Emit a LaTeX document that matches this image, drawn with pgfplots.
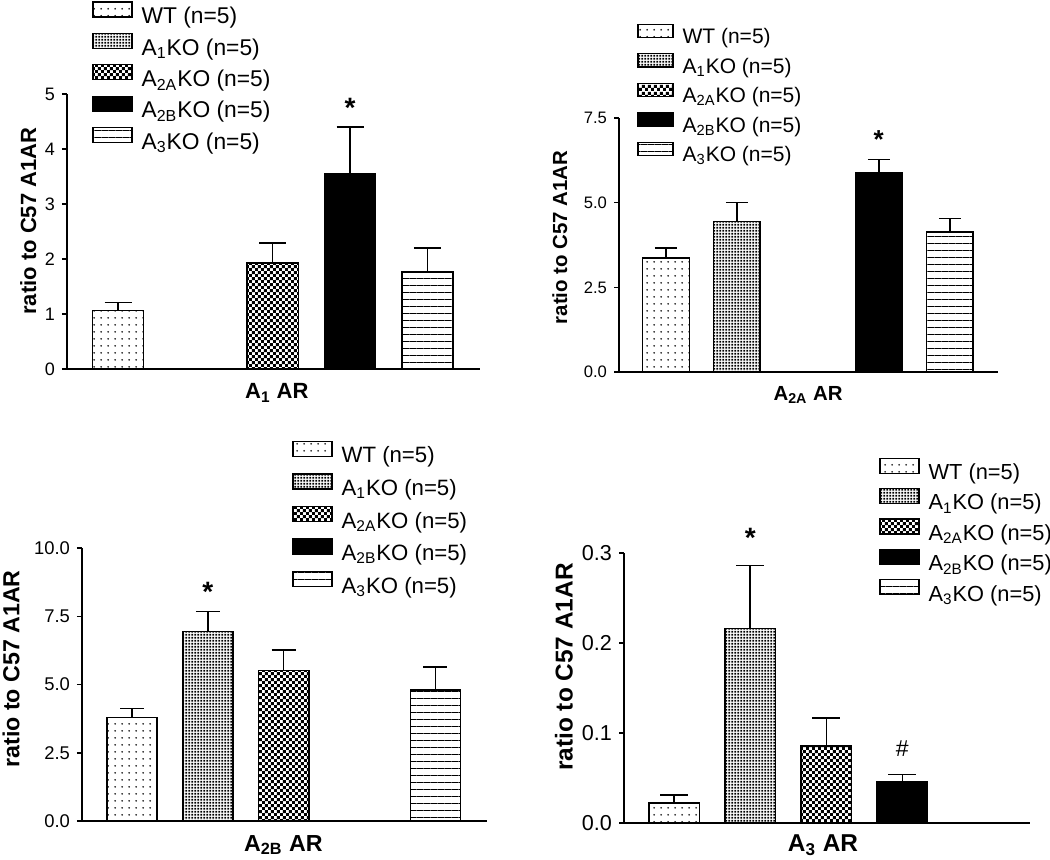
\documentclass[border=0pt]{standalone}
\usepackage{fontspec}
\setmainfont{Liberation Sans}
\usepackage{pgfplots}
\pgfplotsset{compat=1.18}
\usetikzlibrary{patterns.meta}

% fill patterns of the five genotypes
\tikzdeclarepattern{name=wtdots, type=uncolored,
  bounding box={(0,0) and (3.5pt,3.5pt)}, tile size={(3.5pt,3.5pt)},
  code={\fill (1.75pt,1.75pt) circle (0.5pt);}}
\tikzdeclarepattern{name=finedots, type=uncolored,
  bounding box={(0,0) and (1.55pt,1.55pt)}, tile size={(1.55pt,1.55pt)},
  code={\fill (0.25pt,0.25pt) rectangle (1.3pt,1.3pt);}}
\tikzdeclarepattern{name=checker, type=uncolored,
  bounding box={(0,0) and (3.2pt,3.2pt)}, tile size={(3.2pt,3.2pt)},
  code={\fill (0,0) rectangle (1.6pt,1.6pt); \fill (1.6pt,1.6pt) rectangle (3.2pt,3.2pt);}}

% legend entry in a given size
\newcommand{\entry}[2]{\addlegendentry{\fontsize{#1}{#1}\selectfont #2}}

\pgfplotsset{
  bar/.style={ybar, bar width=0.66, draw=black, line width=0.75pt},
  wt/.style={bar, pattern=wtdots, pattern color=black},
  ko1/.style={bar, pattern=finedots, pattern color=black},
  ko2a/.style={bar, pattern=checker, pattern color=black},
  ko2b/.style={bar, fill=black},
  ko3/.style={bar, pattern={Lines[angle=0, distance=3.5pt, line width=0.5pt]}, pattern color=black},
  eb/.style={/pgfplots/error bars/y dir=plus, /pgfplots/error bars/y explicit,
    /pgfplots/error bars/error bar style={line width=0.75pt, black},
    /pgfplots/error bars/error mark options={rotate=90, mark size=#1, line width=0.75pt, black}},
  panel/.style={
    scale only axis, clip=false,
    axis x line*=bottom, axis y line*=left,
    axis line style={line width=0.75pt},
    xmin=-0.66, xmax=4.68, ymin=0,
    xtick=\empty,
    tick align=outside, major tick length=2.5pt,
    ytick style={line width=0.75pt, black},
    /pgf/number format/assume math mode=true,
    ylabel={ratio to C57 A1AR},
    legend cell align=left,
  },
}

\begin{document}
\begin{tikzpicture}
\path[use as bounding box] (0,0) rectangle (525pt,429.5pt);

% A1 AR
\begin{axis}[panel, at={(33.5pt,245pt)}, anchor=south west,
  width=206.5pt, height=137.5pt, ymax=5, ytick={0,1,2,3,4,5},
  tick label style={font=\fontsize{9}{10}\selectfont},
  label style={font=\bfseries\fontsize{11}{13}\selectfont},
  xlabel={A\textsubscript{1} AR},
  xlabel style={at={(axis description cs:0.508,-0.087)}, anchor=center},
  ylabel style={at={(axis description cs:-0.094,0.538)}, anchor=center},
  legend image code/.code={\draw[#1,/tikz/.cd, line width=0.6pt] (0pt,0pt) rectangle (19.5pt,7.5pt);},
  legend style={draw=none, fill=none, inner sep=0pt, anchor=north west,
    column sep=2.5pt, row sep=1pt,
    at={(axis description cs:0.0605,1.338)}}]
\addplot[wt, eb=6.75pt] coordinates {(0,1.06) +- (0,0.15)};
\entry{11.4}{WT (n=5)}
\addlegendimage{ko1}
\entry{11.4}{A\textsubscript{1}KO (n=5)}
\addplot[ko2a, eb=6.75pt] coordinates {(2,1.93) +- (0,0.36)};
\entry{11.4}{A\textsubscript{2A}KO (n=5)}
\addplot[ko2b, eb=6.75pt] coordinates {(3,3.55) +- (0,0.85)};
\entry{11.4}{A\textsubscript{2B}KO (n=5)}
\addplot[ko3, eb=6.75pt] coordinates {(4,1.76) +- (0,0.44)};
\entry{11.4}{A\textsubscript{3}KO (n=5)}
\node[anchor=north, inner sep=0pt, font=\bfseries\fontsize{14}{14}\selectfont] at (axis cs:3,4.93) {*};
\end{axis}

% A2A AR
\begin{axis}[panel, at={(309.5pt,243.5pt)}, anchor=south west,
  width=189.5pt, height=127pt, ymax=7.5, ytick={0,2.5,5,7.5},
  yticklabel style={/pgf/number format/.cd, fixed, fixed zerofill, precision=1},
  tick label style={font=\fontsize{8.3}{9}\selectfont},
  label style={font=\bfseries\fontsize{10.2}{12}\selectfont},
  xlabel={A\textsubscript{2A} AR},
  xlabel style={at={(axis description cs:0.499,-0.09)}, anchor=center},
  ylabel style={at={(axis description cs:-0.156,0.53)}, anchor=center},
  legend image code/.code={\draw[#1,/tikz/.cd, line width=0.6pt] (0pt,0pt) rectangle (17.5pt,6.6pt);},
  legend style={draw=none, fill=none, inner sep=0pt, anchor=north west,
    column sep=2.5pt, row sep=1.3pt,
    at={(axis description cs:0.0475,1.373)}}]
\addplot[wt, eb=5.5pt] coordinates {(0,3.36) +- (0,0.30)};
\entry{10.5}{WT (n=5)}
\addplot[ko1, eb=5.5pt] coordinates {(1,4.45) +- (0,0.56)};
\entry{10.5}{A\textsubscript{1}KO (n=5)}
\addlegendimage{ko2a}
\entry{10.5}{A\textsubscript{2A}KO (n=5)}
\addplot[ko2b, eb=5.5pt] coordinates {(3,5.87) +- (0,0.41)};
\entry{10.5}{A\textsubscript{2B}KO (n=5)}
\addplot[ko3, eb=5.5pt] coordinates {(4,4.13) +- (0,0.41)};
\entry{10.5}{A\textsubscript{3}KO (n=5)}
\node[anchor=north, inner sep=0pt, font=\bfseries\fontsize{13}{13}\selectfont] at (axis cs:3,7.14) {*};
\end{axis}

% A2B AR
\begin{axis}[panel, at={(41pt,19pt)}, anchor=south west,
  width=202.5pt, height=136.5pt, ymax=10, ytick={0,2.5,5,7.5,10},
  yticklabel style={/pgf/number format/.cd, fixed, fixed zerofill, precision=1},
  tick label style={font=\fontsize{9.2}{10}\selectfont},
  label style={font=\bfseries\fontsize{11.6}{13}\selectfont},
  xlabel={A\textsubscript{2B} AR},
  xlabel style={at={(axis description cs:0.497,-0.088)}, anchor=center},
  ylabel style={at={(axis description cs:-0.175,0.557)}, anchor=center},
  legend image code/.code={\draw[#1,/tikz/.cd, line width=0.6pt] (0pt,0pt) rectangle (19.5pt,7.5pt);},
  legend style={draw=none, fill=none, inner sep=0pt, anchor=north west,
    column sep=2.5pt, row sep=1.7pt,
    at={(axis description cs:0.5185,1.394)}}]
\addplot[wt, eb=6pt] coordinates {(0,3.80) +- (0,0.33)};
\entry{11.1}{WT (n=5)}
\addplot[ko1, eb=6pt] coordinates {(1,6.95) +- (0,0.72)};
\entry{11.1}{A\textsubscript{1}KO (n=5)}
\addplot[ko2a, eb=6pt] coordinates {(2,5.52) +- (0,0.75)};
\entry{11.1}{A\textsubscript{2A}KO (n=5)}
\addlegendimage{ko2b}
\entry{11.1}{A\textsubscript{2B}KO (n=5)}
\addplot[ko3, eb=6pt] coordinates {(4,4.80) +- (0,0.84)};
\entry{11.1}{A\textsubscript{3}KO (n=5)}
\node[anchor=north, inner sep=0pt, font=\bfseries\fontsize{14}{14}\selectfont] at (axis cs:1,8.75) {*};
\end{axis}

% A3 AR
\begin{axis}[panel, at={(312pt,18pt)}, anchor=south west,
  width=203pt, height=135pt, ymax=0.3, ytick={0,0.1,0.2,0.3},
  yticklabel style={/pgf/number format/.cd, fixed, fixed zerofill, precision=1},
  tick label style={font=\fontsize{10.8}{12}\selectfont},
  label style={font=\bfseries\fontsize{12.2}{14}\selectfont},
  xlabel={A\textsubscript{3} AR},
  xlabel style={at={(axis description cs:0.49,-0.081)}, anchor=center},
  ylabel style={at={(axis description cs:-0.148,0.578)}, anchor=center},
  legend image code/.code={\draw[#1,/tikz/.cd, line width=0.6pt] (0pt,0pt) rectangle (19.5pt,7.5pt);},
  legend style={draw=none, fill=none, inner sep=0pt, anchor=north west,
    column sep=2.5pt, row sep=0.7pt,
    at={(axis description cs:0.628,1.355)}}]
\addplot[wt, eb=7pt] coordinates {(0,0.022) +- (0,0.009)};
\entry{10.9}{WT (n=5)}
\addplot[ko1, eb=7pt] coordinates {(1,0.216) +- (0,0.070)};
\entry{10.9}{A\textsubscript{1}KO (n=5)}
\addplot[ko2a, eb=7pt] coordinates {(2,0.0856) +- (0,0.031)};
\entry{10.9}{A\textsubscript{2A}KO (n=5)}
\addplot[ko2b, eb=7pt] coordinates {(3,0.0456) +- (0,0.0084)};
\entry{10.9}{A\textsubscript{2B}KO (n=5)}
\addlegendimage{ko3}
\entry{10.9}{A\textsubscript{3}KO (n=5)}
\node[anchor=north, inner sep=0pt, font=\bfseries\fontsize{14}{14}\selectfont] at (axis cs:1,0.328) {*};
\node[anchor=north, inner sep=0pt, font=\fontsize{11.5}{11.5}\selectfont] at (axis cs:3,0.092) {\#};
\end{axis}
\end{tikzpicture}
\end{document}
